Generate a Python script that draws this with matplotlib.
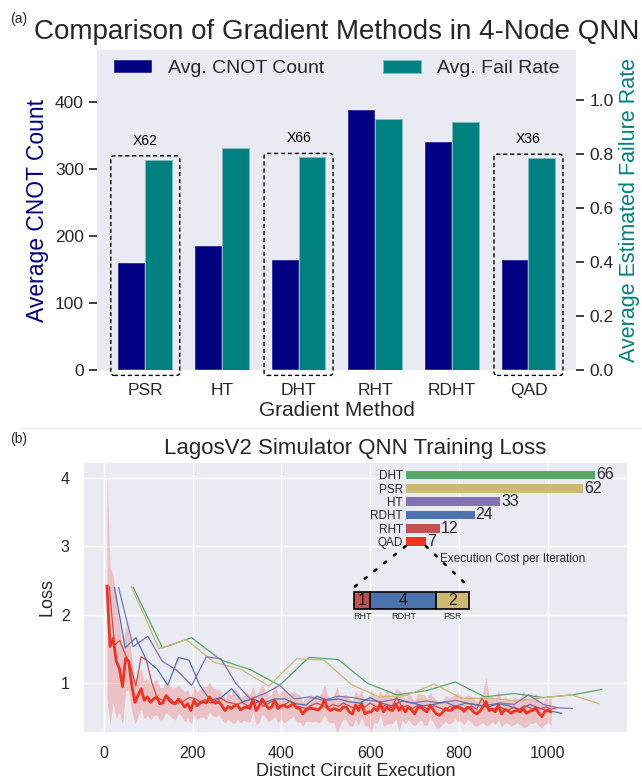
import numpy as np
import matplotlib
matplotlib.use("Agg")
import matplotlib.pyplot as plt
import seaborn as sns
from matplotlib.patches import FancyBboxPatch, ConnectionPatch
from matplotlib.lines import Line2D

# ---------------- data ----------------
methods = ["PSR", "HT", "DHT", "RHT", "RDHT", "QAD"]
avg_cnot = [160, 185, 164, 389, 340, 164]
avg_fail = [0.779, 0.822, 0.788, 0.928, 0.917, 0.785]
boxed_methods = ["PSR", "DHT", "QAD"]
boxed_labels = ["X62", "X66", "X36"]

cost_methods = ["DHT", "PSR", "HT", "RDHT", "RHT", "QAD"]
cost_values = [66, 62, 33, 24, 12, 7]
qad_parts = ["RHT", "RDHT", "PSR"]
qad_part_cost = [1, 4, 2]

qad_loss = [2.42, 1.53, 1.65, 1.31, 1.21, 0.94, 1.36, 1.31, 0.96, 0.71,
            0.81, 0.91, 0.74, 0.79, 0.71, 0.76, 0.79, 0.69, 0.70, 0.81,
            0.74, 0.70, 0.69, 0.76, 0.71, 0.64, 0.69, 0.59, 0.74, 0.66,
            0.70, 0.72, 0.70, 0.79, 0.72, 0.70, 0.72, 0.66, 0.59, 0.65,
            0.62, 0.66, 0.67, 0.60, 0.63, 0.64, 0.62, 0.76, 0.59, 0.66,
            0.76, 0.68, 0.62, 0.64, 0.74, 0.62, 0.65, 0.67, 0.64, 0.66,
            0.69, 0.63, 0.62, 0.54, 0.60, 0.62, 0.62, 0.61, 0.60, 0.64,
            0.75, 0.62, 0.59, 0.62, 0.60, 0.59, 0.64, 0.64,
            0.57, 0.54, 0.67, 0.59, 0.69, 0.54, 0.57, 0.57, 0.62, 0.59,
            0.70, 0.57, 0.64, 0.60, 0.59, 0.69, 0.59, 0.65, 0.57, 0.64,
            0.60, 0.54, 0.63, 0.64, 0.60, 0.57, 0.67, 0.60, 0.54, 0.52,
            0.56, 0.62, 0.59, 0.60, 0.65, 0.64, 0.62, 0.58, 0.64, 0.62,
            0.57, 0.54, 0.58, 0.64, 0.72, 0.59, 0.61, 0.57, 0.67, 0.54,
            0.60, 0.59, 0.55, 0.58, 0.59, 0.57, 0.62, 0.55, 0.58, 0.59,
            0.63, 0.55, 0.50, 0.58, 0.59, 0.57]
qad_std = [1.66, 1.16, 0.94, 0.84, 0.64, 0.55, 0.48, 0.42, 0.38, 0.32,
           0.30, 0.30, 0.28, 0.27, 0.26, 0.25, 0.26, 0.24, 0.23, 0.25,
           0.22, 0.22, 0.24, 0.21, 0.20, 0.22, 0.21, 0.19, 0.22, 0.20,
           0.21, 0.23, 0.24, 0.22, 0.20, 0.21, 0.19, 0.20, 0.18, 0.19,
           0.20, 0.26, 0.21, 0.19, 0.18, 0.22, 0.20, 0.19, 0.21, 0.24,
           0.22, 0.19, 0.20, 0.18, 0.23, 0.21, 0.19, 0.26, 0.20, 0.18,
           0.19, 0.21, 0.20, 0.18, 0.17, 0.19, 0.20, 0.18, 0.19, 0.21,
           0.22, 0.19, 0.18, 0.20, 0.34, 0.21, 0.18, 0.19, 0.20, 0.18,
           0.21, 0.22, 0.19, 0.18, 0.20, 0.32, 0.20, 0.19, 0.18, 0.21,
           0.26, 0.20, 0.19, 0.22, 0.30, 0.20, 0.18, 0.19, 0.20, 0.18,
           0.21, 0.19, 0.22, 0.20, 0.18, 0.19, 0.21, 0.18, 0.17, 0.19,
           0.20, 0.19, 0.18, 0.21, 0.19, 0.20, 0.18, 0.19, 0.20, 0.18,
           0.19, 0.22, 0.36, 0.20, 0.19, 0.18, 0.22, 0.19, 0.20, 0.18,
           0.19, 0.20, 0.18, 0.19, 0.28, 0.20, 0.18, 0.19, 0.21, 0.18,
           0.17, 0.19, 0.18, 0.20]
rht_loss = [2.42, 1.55, 1.62, 1.42, 1.25, 0.95, 1.38, 1.33, 1.00, 0.78,
            0.74, 0.80, 0.72, 0.70, 0.73, 0.78, 0.77, 0.72, 0.75, 0.70,
            0.74, 0.77, 0.72, 0.70, 0.68, 0.71, 0.66, 0.69, 0.72, 0.65,
            0.70, 0.74, 0.66, 0.68, 0.73, 0.66, 0.64, 0.62, 0.67, 0.70,
            0.66, 0.63, 0.68, 0.65, 0.70, 0.66, 0.62, 0.67, 0.64, 0.70,
            0.65, 0.62, 0.68, 0.63, 0.78, 0.64, 0.66, 0.62, 0.67, 0.64,
            0.61, 0.66, 0.63, 0.60, 0.65, 0.62, 0.64, 0.60, 0.66, 0.61,
            0.77, 0.62, 0.60, 0.65, 0.62, 0.60, 0.64, 0.61, 0.66, 0.63,
            0.60, 0.62, 0.64, 0.61, 0.63]
rdht_loss = [2.40, 1.51, 1.66, 1.33, 1.20, 0.96, 1.37, 1.33, 0.96, 0.74,
             0.78, 0.91, 0.72, 0.76, 0.70, 0.76, 0.76, 0.69, 0.67, 0.80,
             0.74, 0.76, 0.72, 0.70, 0.78, 0.70, 0.66, 0.73, 0.70, 0.66,
             0.68, 0.72, 0.65, 0.70, 0.67, 0.64, 0.69, 0.66, 0.60, 0.68,
             0.62, 0.58, 0.55]
ht_loss = [2.40, 1.53, 1.68, 1.31, 1.18, 0.96, 1.38, 1.35, 0.99, 0.76,
           0.84, 0.96, 0.76, 0.79, 0.74, 0.80, 0.78, 0.74, 0.72, 0.76,
           0.70, 0.73, 0.70, 0.74, 0.69, 0.66, 0.70, 0.68, 0.82, 0.68,
           0.63, 0.62]
psr_loss = [2.41, 1.50, 1.63, 1.30, 1.19, 0.95, 1.35, 1.33, 0.97, 0.79,
            0.81, 0.98, 0.77, 0.77, 0.73, 0.78, 0.82, 0.69]
dht_loss = [2.40, 1.51, 1.66, 1.33, 1.19, 0.96, 1.37, 1.34, 0.99, 0.82,
            0.88, 1.01, 0.79, 0.84, 0.78, 0.82, 0.90]

# ---------------- style ----------------
sns.set_theme(style="darkgrid")
plt.rcParams["font.family"] = ["Liberation Sans", "DejaVu Sans"]

NAVY = "#000080"
TEAL = "#008080"
colors = {"DHT": "#55A868", "PSR": "#CCB974", "HT": "#8172B3",
          "RDHT": "#4C72B0", "RHT": "#C44E52", "QAD": "#EE3322"}

fig = plt.figure(figsize=(6.42, 7.81), dpi=100)
W, H = 642, 781


def rect(l, t, r, b):
    return [l / W, 1 - b / H, (r - l) / W, (b - t) / H]


# ---------------- (a) ----------------
ax = fig.add_axes(rect(97, 50, 576, 370))
ax2 = ax.twinx()
x = np.arange(len(methods))
w = 0.35
b1 = ax.bar(x - w / 2, avg_cnot, w, color=NAVY, label="Avg. CNOT Count",
            edgecolor="white", linewidth=0.3)
b2 = ax2.bar(x + w / 2, avg_fail, w, color=TEAL, label="Avg. Fail Rate",
             edgecolor="#7fbfbf", linewidth=0.6)
ax.set_xlim(-0.63, 5.62)
ax.set_ylim(0, 478)
ax2.set_ylim(0, 1.185)
ax.grid(False)
ax2.grid(False)
ax.set_xticks(x)
ax.set_xticklabels(methods, fontsize=12.5)
ax.set_yticks([0, 100, 200, 300, 400])
ax.tick_params(axis="y", labelsize=12.5)
ax2.set_yticks([0.0, 0.2, 0.4, 0.6, 0.8, 1.0])
ax2.set_yticklabels(["0.0", "0.2", "0.4", "0.6", "0.8", "1.0"])
ax2.tick_params(axis="y", labelsize=12.5)
ax.set_xlabel("Gradient Method", fontsize=15, labelpad=2)
ax.set_ylabel("Average CNOT Count", fontsize=16.5, color=NAVY)
ax2.set_ylabel("Average Estimated Failure Rate", fontsize=15.5, color=TEAL)
ax.set_title("Comparison of Gradient Methods in 4-Node QNN", fontsize=20, pad=8)
for s in list(ax.spines.values()) + list(ax2.spines.values()):
    s.set_visible(False)
ax.legend([b1, b2], ["Avg. CNOT Count", "Avg. Fail Rate"], loc="upper center",
          ncol=2, frameon=False, fontsize=14, columnspacing=3.0,
          bbox_to_anchor=(0.5, 1.025))

for m, lab in zip(boxed_methods, boxed_labels):
    i = methods.index(m)
    top = avg_fail[i] + 0.014
    bot = -0.02
    box = FancyBboxPatch((i - 0.45, bot), 0.9, top - bot,
                         boxstyle="round,pad=0,rounding_size=0.04",
                         mutation_aspect=0.28, fill=False, edgecolor="black",
                         linestyle=(0, (3, 2)), linewidth=1.0, clip_on=False,
                         transform=ax2.transData, zorder=5)
    ax2.add_patch(box)
    ax2.text(i, top + 0.03, lab, ha="center", va="bottom", fontsize=10,
             color="black")

fig.text(0.015, 0.985, "(a)", fontsize=10, va="top", ha="left")

# separator
fig.add_artist(Line2D([0.03, 1.0], [1 - 428 / H, 1 - 428 / H],
                      transform=fig.transFigure, color="#eeeeee", lw=0.8))

# ---------------- (b) ----------------
axb = fig.add_axes(rect(83, 462, 628, 733))
series = [("DHT", 66, dht_loss), ("PSR", 62, psr_loss), ("HT", 33, ht_loss),
          ("RDHT", 24, rdht_loss), ("RHT", 12, rht_loss)]
qx = 7 * np.arange(1, len(qad_loss) + 1)
qm = np.array(qad_loss)
qs = np.array(qad_std)
axb.fill_between(qx, qm - qs, qm + qs, color=colors["QAD"], alpha=0.22,
                 linewidth=0)
for name, c, vals in series:
    xs = c * np.arange(1, len(vals) + 1)
    axb.plot(xs, vals, color=colors[name], lw=0.9)
axb.plot(qx, qm, color=colors["QAD"], lw=2.0)
axb.set_xlim(-47, 1181)
axb.set_ylim(0.26, 4.24)
axb.set_xticks([0, 200, 400, 600, 800, 1000])
axb.set_yticks([1, 2, 3, 4])
axb.tick_params(labelsize=11.5)
axb.set_xlabel("Distinct Circuit Execution", fontsize=13, labelpad=1)
axb.set_ylabel("Loss", fontsize=13)
axb.set_title("LagosV2 Simulator QNN Training Loss", fontsize=16, pad=6)
fig.text(0.015, 1 - 432 / H, "(b)", fontsize=10, va="top", ha="left")

# inset cost bars
ax_in = fig.add_axes(rect(405.7, 468.3, 620.7, 548.3))
ax_in.set_facecolor("none")
ax_in.grid(False)
yy = np.arange(len(cost_methods))
ax_in.barh(yy, cost_values, height=0.65,
           color=[colors[m] for m in cost_methods], edgecolor="none")
ax_in.set_xlim(0, 75)
ax_in.set_ylim(len(cost_methods) - 0.5, -0.5)
ax_in.set_yticks(yy)
ax_in.set_yticklabels(cost_methods, fontsize=8.5)
ax_in.tick_params(axis="y", pad=2, length=0)
ax_in.set_xticks([])
for s in ax_in.spines.values():
    s.set_visible(False)
for i, v in enumerate(cost_values):
    ax_in.text(v + 0.4, i, str(v), va="center", ha="left", fontsize=11.5,
               color=".15")
ax_in.text(12, 6.27, "Execution Cost per Iteration", fontsize=8.5,
           va="center", ha="left", color=".15")

# QAD composition box
ax_box = fig.add_axes(rect(354, 591.7, 469.3, 609.3))
ax_box.set_facecolor("none")
ax_box.grid(False)
left = 0
for p, c in zip(qad_parts, qad_part_cost):
    ax_box.barh(0, c, left=left, height=1.0, color=colors[p],
                edgecolor="black", linewidth=1.2, clip_on=False)
    ax_box.text(left + c / 2, 0, str(c), ha="center", va="center",
                fontsize=11.5, color=".1")
    ax_box.text(left + c / 2, -0.65, p, ha="center", va="top", fontsize=6.5,
                color=".15")
    left += c
ax_box.set_xlim(0, sum(qad_part_cost))
ax_box.set_ylim(-0.5, 0.5)
ax_box.axis("off")

qi = cost_methods.index("QAD")
qv = cost_values[qi]
for xa, xb in [(0, 0), (qv, sum(qad_part_cost))]:
    con = ConnectionPatch(xyA=(xa, qi + 0.33), coordsA=ax_in.transData,
                          xyB=(xb, 0.75), coordsB=ax_box.transData,
                          linestyle=(0, (1, 4)), color="black", lw=1.8)
    fig.add_artist(con)

fig.savefig("out.png", dpi=100)
